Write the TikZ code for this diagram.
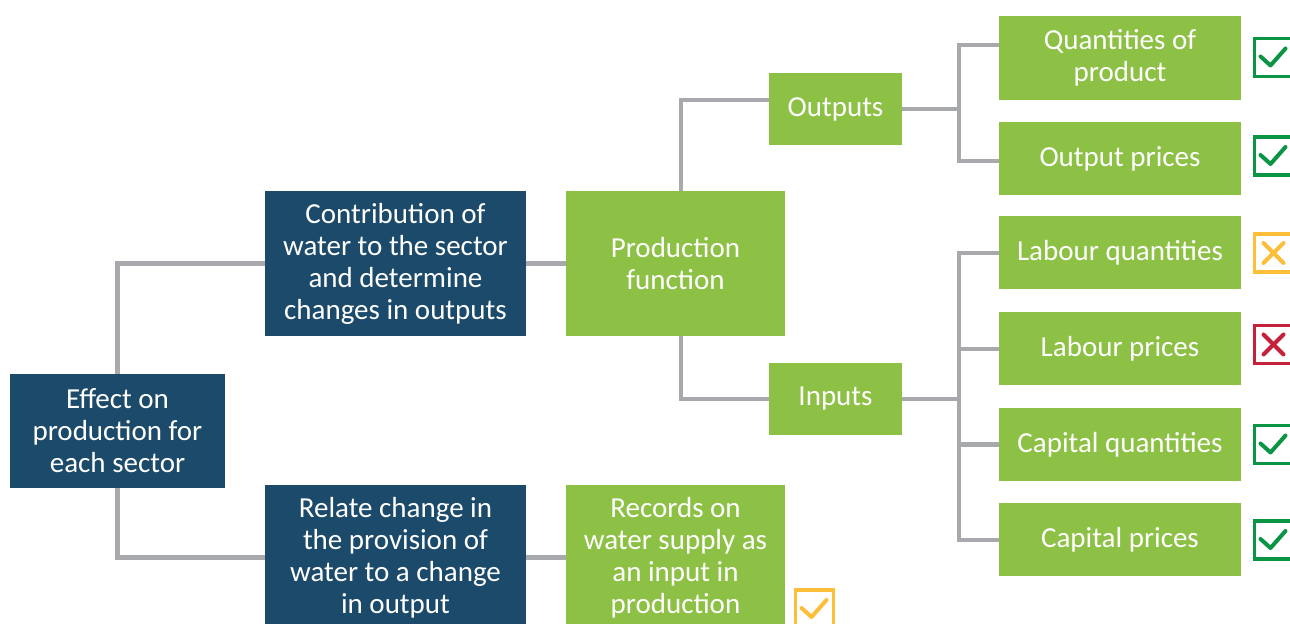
\documentclass[tikz,border=0pt]{standalone}
\usepackage{fontspec}
\setmainfont{Carlito}
\definecolor{boxgreen}{HTML}{8DC145}
\definecolor{boxblue}{HTML}{1C4A6B}
\definecolor{linkgray}{HTML}{A8A9AD}
\definecolor{okgreen}{HTML}{0B9444}
\definecolor{partorange}{HTML}{FDBE3A}
\definecolor{nored}{HTML}{C6213A}

\begin{document}
\begin{tikzpicture}[x=0.5pt,y=-0.5pt,box/.style={shape=rectangle,inner sep=0pt,text=white,align=center,font=\fontsize{14.5}{16}\selectfont},boxB/.style={box,fill=boxblue},boxG/.style={box,fill=boxgreen},leaf/.style={boxG,minimum width=121pt,minimum height=36.5pt},link/.style={draw=linkgray,line width=2.3pt},markbox/.style={shape=rectangle,line width=1.7pt,minimum size=19pt,inner sep=0pt},tickline/.style={line width=2pt,line cap=round,line join=round}]
\def\rx{1120};
\def\mx{1273.5};
\def\jx{959};

\clip (0,0) rectangle (1290,624);

\node[boxB,minimum width=107.5pt,minimum height=57pt] (effect) at (117.5,431) {Effect on\\production for\\each sector};

\node[boxB,minimum width=130.5pt,minimum height=72.5pt] (contrib) at (395.5,263.5) {Contribution of\\water to the sector\\and determine\\changes in outputs};
\node[boxB,minimum width=130.5pt,minimum height=72.5pt] (relate) at (395.5,557.5) {Relate change in\\the provision of\\water to a change\\in output};
\draw[link] (effect.north) |- (contrib.west);
\draw[link] (effect.south) |- (relate.west);

\node[boxG,minimum width=109.5pt,minimum height=72.5pt] (prodf) at (675.5,263.5) {Production\\function};
\node[boxG,minimum width=109.5pt,minimum height=72.5pt] (records) at (675.5,557.5) {Records on\\water supply as\\an input in\\production};
\draw[link] (contrib) -- (prodf);
\draw[link] (relate) -- (records);

\node[boxG,minimum width=66.5pt,minimum height=36pt] (outputs) at (835.5,109) {Outputs};
\node[boxG,minimum width=66.5pt,minimum height=36pt] (inputs) at (835.5,399) {Inputs};
\draw[link] ([xshift=2.75pt]prodf.north) |- ([yshift=4.5pt]outputs.west);
\draw[link] ([xshift=2.75pt]prodf.south) |- (inputs.west);

\node[leaf,minimum height=42pt] (qprod) at (\rx,58) {Quantities of\\product};
\node[leaf] (oprice) at (\rx,158.5) {Output prices};
\node[leaf] (labq) at (\rx,253) {Labour quantities};
\node[leaf] (labp) at (\rx,349) {Labour prices};
\node[leaf] (capq) at (\rx,444.5) {Capital quantities};
\node[leaf] (capp) at (\rx,540) {Capital prices};

\coordinate (ojoin) at (\jx,109);
\coordinate (ijoin) at (\jx,399);
\draw[link] (outputs) -- (ojoin);
\draw[link] (ojoin) |- ([yshift=6.5pt]qprod.west);
\draw[link] (ojoin) |- ([yshift=-1.25pt]oprice.west);
\draw[link] (inputs) -- (ijoin);
\draw[link] (ijoin) |- (labq.west);
\draw[link] (ijoin) |- (labp.west);
\draw[link] (ijoin) |- (capq.west);
\draw[link] (ijoin) |- (capp.west);

% marks
\node[markbox,draw=okgreen] (m1) at (\mx,57.5) {};
\draw[tickline,okgreen] ([shift={(-13,-1)}]m1.center) -- ([shift={(-3,8)}]m1.center) -- ([shift={(12,-9)}]m1.center);
\node[markbox,draw=okgreen] (m2) at (\mx,156) {};
\draw[tickline,okgreen] ([shift={(-13,-1)}]m2.center) -- ([shift={(-3,8)}]m2.center) -- ([shift={(12,-9)}]m2.center);
\node[markbox,draw=partorange] (m3) at (\mx,253) {};
\draw[tickline,partorange] ([shift={(-10,-10)}]m3.center) -- ([shift={(10,10)}]m3.center);
\draw[tickline,partorange] ([shift={(-10,10)}]m3.center) -- ([shift={(10,-10)}]m3.center);
\node[markbox,draw=nored] (m4) at (\mx,344.5) {};
\draw[tickline,nored] ([shift={(-10,-10)}]m4.center) -- ([shift={(10,10)}]m4.center);
\draw[tickline,nored] ([shift={(-10,10)}]m4.center) -- ([shift={(10,-10)}]m4.center);
\node[markbox,draw=okgreen] (m5) at (\mx,444.5) {};
\draw[tickline,okgreen] ([shift={(-13,-1)}]m5.center) -- ([shift={(-3,8)}]m5.center) -- ([shift={(12,-9)}]m5.center);
\node[markbox,draw=okgreen] (m6) at (\mx,540) {};
\draw[tickline,okgreen] ([shift={(-13,-1)}]m6.center) -- ([shift={(-3,8)}]m6.center) -- ([shift={(12,-9)}]m6.center);
\node[markbox,draw=partorange] (m7) at (814.5,609) {};
\draw[tickline,partorange] ([shift={(-13,-1)}]m7.center) -- ([shift={(-3,8)}]m7.center) -- ([shift={(12,-9)}]m7.center);
\end{tikzpicture}
\end{document}
